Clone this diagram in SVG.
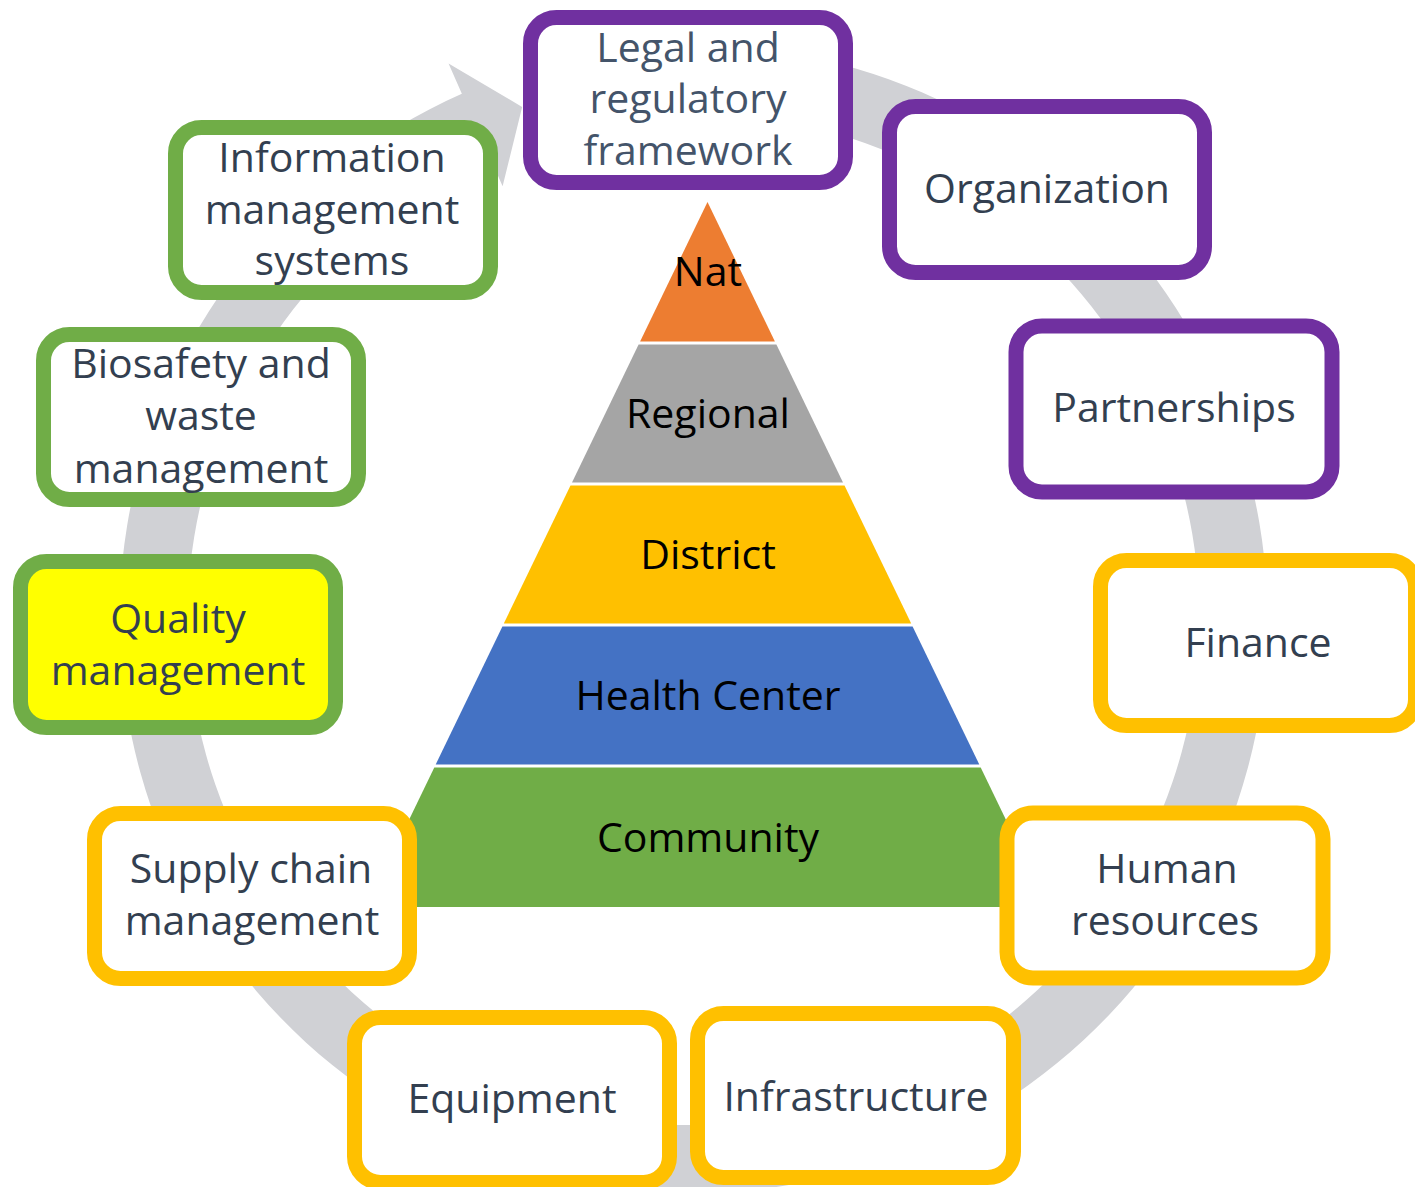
<svg xmlns="http://www.w3.org/2000/svg" width="1415" height="1187" viewBox="0 0 1415 1187">
  <style>
    .box { stroke-width: 15; fill: #FFFFFF; }
    .purple { stroke: #7030A0; }
    .green { stroke: #70AD47; }
    .gold { stroke: #FFC000; }
    .lbl { font-family: "Open Sans", "Noto Sans", "DejaVu Sans", sans-serif; font-size: 41px; fill: #333F50; text-anchor: middle; }
    .tier { font-family: "Open Sans", "Noto Sans", "DejaVu Sans", sans-serif; font-size: 41px; fill: #000000; text-anchor: middle; }
  </style>
  <rect x="0" y="0" width="1415" height="1187" fill="#FFFFFF"/>

  <g id="connectors">
    <path id="cycle-arrow" fill="#D0D1D5" d="M 643.47 47.19 A 574 574 0 1 1 461.86 93.81 L 448.55 63.62 L 522.16 106.91 L 502.62 186.22 L 489.30 156.03 A 506 506 0 1 0 649.40 114.93 Z"/>
  </g>

  <g id="pyramid">
    <g id="tier-nat">
      <polygon points="707.5,202 774.9,341.5 640.1,341.5" fill="#ED7D31"/>
      <text class="tier" x="708" y="286">Nat</text>
    </g>
    <g id="tier-regional">
      <polygon points="638.6,344.5 776.4,344.5 843,482.5 572,482.5" fill="#A5A5A5"/>
      <text class="tier" x="708" y="428">Regional</text>
    </g>
    <g id="tier-district">
      <polygon points="570.5,485.5 844.5,485.5 911.2,623.5 503.8,623.5" fill="#FFC000"/>
      <text class="tier" x="708" y="569">District</text>
    </g>
    <g id="tier-health-center">
      <polygon points="502.4,626.5 912.6,626.5 979.3,764.5 435.7,764.5" fill="#4472C4"/>
      <text class="tier" x="708" y="710">Health Center</text>
    </g>
    <g id="tier-community">
      <polygon points="434.3,767.5 980.7,767.5 1048.1,907 366.9,907" fill="#70AD47"/>
      <text class="tier" x="708" y="852">Community</text>
    </g>
  </g>

  <g id="node-legal">
    <rect class="box purple" x="530.5" y="17.5" width="315" height="165" rx="26"/>
    <text class="lbl" x="688" style="fill:#44546A"><tspan x="688" y="62">Legal and</tspan><tspan x="688" y="113">regulatory</tspan><tspan x="688" y="165">framework</tspan></text>
  </g>
  <g id="node-organization">
    <rect class="box purple" x="889.5" y="106.5" width="315" height="166" rx="26"/>
    <text class="lbl" x="1047" y="203">Organization</text>
  </g>
  <g id="node-partnerships">
    <rect class="box purple" x="1016" y="326" width="316" height="166" rx="26"/>
    <text class="lbl" x="1174" y="422">Partnerships</text>
  </g>
  <g id="node-finance">
    <rect class="box gold" x="1100.5" y="560.5" width="315" height="165" rx="26"/>
    <text class="lbl" x="1258" y="657">Finance</text>
  </g>
  <g id="node-human-resources">
    <rect class="box gold" x="1007" y="813" width="316" height="165" rx="26"/>
    <text class="lbl"><tspan x="1167" y="883">Human</tspan><tspan x="1165" y="935">resources</tspan></text>
  </g>
  <g id="node-infrastructure">
    <rect class="box gold" x="697.5" y="1013.5" width="316" height="164" rx="26"/>
    <text class="lbl" x="856" y="1111">Infrastructure</text>
  </g>
  <g id="node-equipment">
    <rect class="box gold" x="354.5" y="1017.5" width="315" height="165" rx="26"/>
    <text class="lbl" x="512" y="1113">Equipment</text>
  </g>
  <g id="node-supply-chain">
    <rect class="box gold" x="94.5" y="813.5" width="315" height="165" rx="26"/>
    <text class="lbl"><tspan x="251" y="883">Supply chain</tspan><tspan x="252" y="935">management</tspan></text>
  </g>
  <g id="node-quality">
    <rect class="box green" x="20.5" y="561.5" width="315" height="166" rx="26" style="fill:#FFFF00"/>
    <text class="lbl"><tspan x="178" y="633">Quality</tspan><tspan x="178" y="685">management</tspan></text>
  </g>
  <g id="node-biosafety">
    <rect class="box green" x="43.5" y="334.5" width="315" height="165" rx="26"/>
    <text class="lbl"><tspan x="201" y="378">Biosafety and</tspan><tspan x="201" y="430">waste</tspan><tspan x="201" y="483">management</tspan></text>
  </g>
  <g id="node-information">
    <rect class="box green" x="175.5" y="127.5" width="315" height="165" rx="26"/>
    <text class="lbl"><tspan x="332" y="172">Information</tspan><tspan x="332" y="224">management</tspan><tspan x="332" y="275">systems</tspan></text>
  </g>
</svg>
